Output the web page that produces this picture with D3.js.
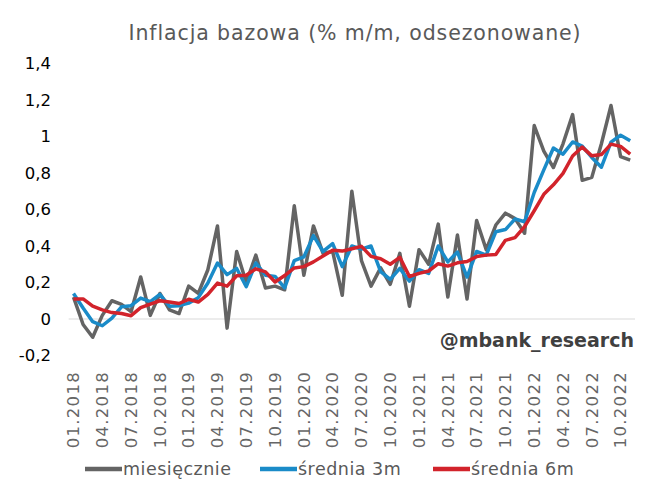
<!DOCTYPE html>
<html><head><meta charset="utf-8">
<script src="https://cdn.jsdelivr.net/npm/d3@7"></script>
<style>html,body{margin:0;padding:0;background:#fff;}svg{display:block;}</style>
</head><body>
<svg id="c" width="655" height="504"></svg>
<script>
const months = [];
for (let y = 2018; y <= 2022; y++) for (let m = 1; m <= 12; m++) {
  if (y === 2022 && m > 11) break;
  months.push((m < 10 ? "0" + m : "" + m) + "." + y);
}
const tickLabels = ["01.2018","04.2018","07.2018","10.2018","01.2019","04.2019","07.2019","10.2019","01.2020","04.2020","07.2020","10.2020","01.2021","04.2021","07.2021","10.2021","01.2022","04.2022","07.2022","10.2022"];
const yTicks = [-0.2, 0, 0.2, 0.4, 0.6, 0.8, 1, 1.2, 1.4];
const monthly = [0.12,-0.03,-0.10,0.02,0.10,0.08,0.04,0.23,0.02,0.14,0.05,0.03,
  0.18,0.14,0.27,0.51,-0.05,0.37,0.20,0.35,0.17,0.18,0.16,0.62,
  0.24,0.51,0.36,0.37,0.13,0.70,0.32,0.18,0.28,0.19,0.36,0.07,
  0.38,0.30,0.52,0.12,0.46,0.11,0.54,0.38,0.515,0.58,0.55,0.47,
  1.06,0.92,0.83,0.96,1.12,0.76,0.776,0.96,1.17,0.89,0.87];
const avg3 = [0.14,0.06,-0.015,-0.037,0.005,0.067,0.073,0.115,0.095,0.135,0.07,0.073,
  0.087,0.117,0.197,0.307,0.243,0.277,0.177,0.307,0.24,0.233,0.17,0.32,
  0.34,0.457,0.37,0.413,0.287,0.40,0.383,0.40,0.26,0.217,0.277,0.207,
  0.27,0.25,0.40,0.313,0.367,0.23,0.37,0.35,0.478,0.49,0.548,0.533,
  0.693,0.817,0.937,0.903,0.97,0.947,0.885,0.832,0.969,1.007,0.977];
const avg6 = [0.11,0.11,0.07,0.05,0.035,0.03,0.018,0.062,0.082,0.10,0.093,0.085,
  0.108,0.093,0.135,0.197,0.18,0.237,0.24,0.275,0.258,0.203,0.238,0.28,
  0.287,0.313,0.345,0.377,0.372,0.385,0.398,0.343,0.33,0.30,0.338,0.233,
  0.25,0.263,0.303,0.29,0.308,0.315,0.342,0.35,0.354,0.431,0.446,0.506,
  0.593,0.683,0.735,0.798,0.893,0.942,0.894,0.901,0.958,0.946,0.904];
const seriesNames = ["miesięcznie", "średnia 3m", "średnia 6m"];
const seriesColors = ["#646464", "#1a8bc8", "#d2232b"];

const svg = d3.select("#c");
const font = "'DejaVu Sans', Verdana, sans-serif";
const x = d3.scaleBand().domain(months).range([68.7, 635]);
const y = d3.scaleLinear().domain([-0.2, 1.4]).range([355.5, 63.5]);

svg.append("text").attr("x", 355).attr("y", 40).attr("text-anchor", "middle")
  .attr("font-family", font).attr("font-size", 20.5).attr("letter-spacing", 0.9).attr("fill", "#595959")
  .text("Inflacja bazowa (% m/m, odsezonowane)");

// zero line
svg.append("line").attr("x1", 68.7).attr("x2", 635).attr("y1", y(0)).attr("y2", y(0))
  .attr("stroke", "#d9d9d9").attr("stroke-width", 1);

// y axis
const fmt = d => d3.format(".1f")(d).replace(/\.0$/, "").replace(".", ",").replace("\u2212", "-");
const yAxis = d3.axisLeft(y).tickValues(yTicks).tickFormat(fmt).tickSize(0).tickPadding(0);
const gy = svg.append("g").attr("transform", "translate(51,0)").call(yAxis);
gy.select(".domain").remove();
gy.selectAll("text").attr("font-family", font).attr("font-size", 16.5).attr("fill", "#000");

// x axis
const xAxis = d3.axisBottom(x).tickValues(tickLabels).tickSize(0).tickPadding(0);
const gx = svg.append("g").attr("transform", "translate(0,371)").call(xAxis);
gx.select(".domain").remove();
gx.selectAll("text").attr("font-family", font).attr("font-size", 16.5).attr("letter-spacing", 1.3)
  .attr("fill", "#666666")
  .attr("transform", "rotate(-90)").attr("text-anchor", "end")
  .attr("x", 0).attr("y", 0).attr("dy", "0.35em");

// watermark
svg.append("text").attr("x", 634).attr("y", 347).attr("text-anchor", "end")
  .attr("font-family", font).attr("font-size", 19).attr("font-weight", "bold").attr("fill", "#404040")
  .text("@mbank_research");

const line = d3.line().x((d, i) => x(months[i]) + x.bandwidth() / 2).y(d => y(d));
[monthly, avg3, avg6].forEach((s, k) => {
  svg.append("path").datum(s).attr("d", line).attr("fill", "none")
    .attr("stroke", seriesColors[k]).attr("stroke-width", 3.5).attr("stroke-linejoin", "round");
});

// legend
const legX = [85, 260, 433];
seriesNames.forEach((n, k) => {
  svg.append("line").attr("x1", legX[k]).attr("x2", legX[k] + 37).attr("y1", 469).attr("y2", 469)
    .attr("stroke", seriesColors[k]).attr("stroke-width", 4.5);
  svg.append("text").attr("x", legX[k] + 38).attr("y", 469).attr("dy", "0.35em")
    .attr("font-family", font).attr("font-size", 17.5).attr("letter-spacing", 0.5).attr("fill", "#595959").text(n);
});
</script>
</body></html>
